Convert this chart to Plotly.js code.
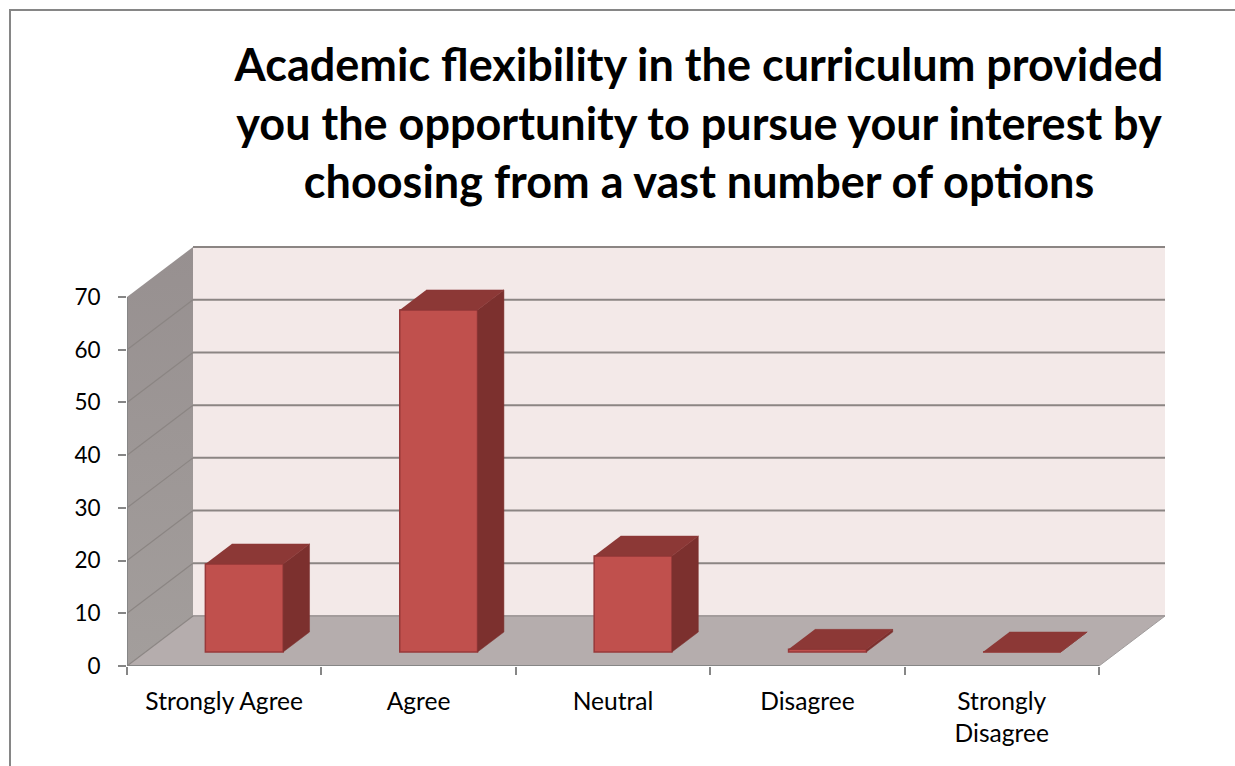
<!DOCTYPE html>
<html><head><meta charset="utf-8">
<script src="https://cdn.plot.ly/plotly-3.0.1.min.js"></script>
<style>html,body{margin:0;padding:0;background:#fff;overflow:hidden}#c{width:1235px;height:766px}</style>
</head><body><div id="c"></div>
<script>
const categories = ["Strongly Agree","Agree","Neutral","Disagree","Strongly<br>Disagree"];
const values = [16.7,64.9,18.2,0.5,0];
const yTicks = [0,10,20,30,40,50,60,70];
const titleLines = ["Academic flexibility in the curriculum provided","you the opportunity to pursue your interest by","choosing from a vast number of options"];

// oblique projection: depth 0..1 moves a point along the floor diagonal
const catPx = 194.4, unitPx = 5.271, depthX = 66/catPx, depthY = 50/unitPx;
const L=127, T=246, W=1038, H=420;
const xMax = W/catPx, yMax = H/unitPx;
const d0 = 0.28, d1 = 0.68, barW = 0.4, shift = 0.008;
const P = (c,v,d)=>[c+d*depthX, v+d*depthY];
const poly = pts => ({x:pts.map(p=>p[0]), y:pts.map(p=>p[1])});
const GRID = "#8b8583", AX="#868686";
const fillT = (pts,color,extra)=>Object.assign({type:"scatter",mode:"lines",fill:"toself",fillcolor:color,
  line:{width:0.5,color:color},hoverinfo:"skip",showlegend:false,cliponaxis:false},poly(pts),extra||{});
const lineT = (pts,color,w)=>Object.assign({type:"scatter",mode:"lines",line:{width:w,color:color},
  hoverinfo:"skip",showlegend:false,cliponaxis:false},poly(pts));

const traces = [];
// front faces
const centres = categories.map((_,i)=>i+0.5+shift+d0*depthX);
traces.push({type:"bar",x:centres,y:values,base:values.map(()=>d0*depthY),width:values.map(()=>barW),
  marker:{color:"#c0504d",line:{color:"#98393a",width:1.5}},hoverinfo:"skip",showlegend:false,cliponaxis:false});
// left wall
traces.push(fillT([P(0,0,0),P(0,0,1),P(0,70,1),P(0,70,0)],"#9d9694",{line:{width:0},
  fillgradient:{type:"vertical",colorscale:[[0,"#a39e9c"],[1,"#979090"]]}}));
yTicks.forEach(v=>{ if(v<70) traces.push(lineT([P(0,v,0),P(0,v,1)],GRID,1.2)); });
// y axis line and floor front edge
traces.push(lineT([P(0,0,0),P(0,70,0)],AX,2));
traces.push(lineT([P(0,0,0),P(5,0,0)],AX,2));
traces.push(lineT([P(5,0,0),P(5,0,1)],"#a09c9c",1));
// side and top faces of every bar
values.forEach((v,i)=>{
  const a=i+0.5+shift-barW/2, b=i+0.5+shift+barW/2;
  traces.push(fillT([P(b,0,d0),P(b,0,d1),P(b,v,d1),P(b,v,d0)],"#7c302e"));
  traces.push(fillT([P(a,v,d0),P(b,v,d0),P(b,v,d1),P(a,v,d1)],"#8c3836"));
});

const shapes = [];
const polyPath = pts => "M"+pts.map(p=>p[0]+","+p[1]).join("L")+"Z";
shapes.push({type:"path",layer:"below",xref:"x",yref:"y",path:polyPath([P(0,0,1),P(5,0,1),P(5,70,1),P(0,70,1)]),fillcolor:"#f3e9e8",line:{width:0}});
shapes.push({type:"path",layer:"below",xref:"x",yref:"y",path:polyPath([P(0,0,0),P(5,0,0),P(5,0,1),P(0,0,1)]),fillcolor:"#b5adad",line:{width:0}});
yTicks.forEach(v=>{
  const a=P(0,v,1), b=P(5,v,1);
  shapes.push({type:"line",layer:"below",xref:"x",yref:"y",x0:a[0],y0:a[1],x1:b[0]+0.01,y1:b[1],line:{color:v===0?"#a39c9c":GRID,width:2}});
});
// chart frame: open on the right and at the bottom
const px = X=>(X-L)/W, py = Y=>1-(Y-T)/H;
shapes.push({type:"path",xref:"paper",yref:"paper",path:`M${px(10)},${py(766)}L${px(10)},${py(10)}L${px(1235)},${py(10)}`,line:{color:"#868686",width:2}});

const layout = {
  width:1235,height:766,margin:{l:L,t:T,r:1235-L-W,b:766-T-H,pad:0},
  paper_bgcolor:"#fff",plot_bgcolor:"rgba(0,0,0,0)",showlegend:false,
  font:{family:"Lato, sans-serif",color:"#000",size:22},
  title:{text:titleLines.join("<br>"),font:{family:"Lato, sans-serif",size:45,weight:700,color:"#000"},
    x:699/1235,xref:"container",xanchor:"center",y:1-81/766,yref:"container",yanchor:"alphabetic"},
  xaxis:{range:[0,xMax],fixedrange:true,showgrid:false,zeroline:false,showline:false,
    tickmode:"array",tickvals:categories.map((_,i)=>i+0.5),ticktext:categories,ticks:"",ticklen:8,tickangle:0,
    tickfont:{size:24.6},ticklabelstandoff:18,
    minor:{tickmode:"array",tickvals:[0,1,2,3,4,5],ticks:"outside",ticklen:8,tickwidth:2,tickcolor:AX,showgrid:false}},
  yaxis:{range:[0,yMax],fixedrange:true,showgrid:false,zeroline:false,showline:false,
    tickmode:"array",tickvals:yTicks,ticks:"outside",ticklen:8,tickwidth:2,tickcolor:AX,tickfont:{size:22.5},ticklabelstandoff:13},
  shapes:shapes,bargap:0
};
Plotly.newPlot("c",traces,layout,{displayModeBar:false,staticPlot:true});
</script></body></html>
